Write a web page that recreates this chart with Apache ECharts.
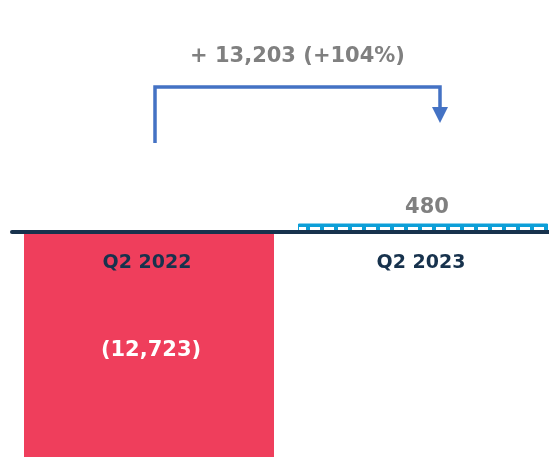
<!DOCTYPE html>
<html>
<head>
<meta charset="utf-8">
<script src="https://cdn.jsdelivr.net/npm/echarts@6/dist/echarts.min.js"></script>
<style>
  html, body { margin: 0; padding: 0; background: #fff; }
  #chart { width: 549px; height: 457px; }
</style>
</head>
<body>
<div id="chart"></div>
<script>
// categories and values
const periods = ['Q2 2022', 'Q2 2023']
const values = [-12723, 480]

const fontFamily = '"DejaVu Sans", sans-serif'

// change between the two periods
const delta = values[1] - values[0]
const deltaPct = Math.round(delta / Math.abs(values[0]) * 100)

function fmt(v) {
  const s = Math.abs(v).toLocaleString('en-US')
  return v < 0 ? '(' + s + ')' : s
}

// hatched fill for the second bar
function hatch() {
  const c = document.createElement('canvas')
  c.width = 14
  c.height = 8
  const ctx = c.getContext('2d')
  ctx.fillStyle = '#0d9fd8'
  ctx.fillRect(0, 0, 14, 8)
  ctx.fillStyle = '#ffffff'
  ctx.fillRect(2, 3, 10, 3)
  return c
}

const myChart = echarts.init(document.getElementById('chart'))
const option = {
  animation: false,
  grid: { left: 12, top: 0, bottom: 0, width: 548, outerBoundsMode: 'none' },
  xAxis: {
    type: 'category',
    data: periods,
    z: 5,
    axisLine: { lineStyle: { color: '#17324d', width: 4 } },
    axisTick: { show: false },
    axisLabel: { show: false }
  },
  yAxis: {
    type: 'value',
    min: -12723,
    max: 13119,
    show: false,
    splitLine: { show: false }
  },
  series: [
    {
      type: 'bar',
      barWidth: 250,
      data: [
        {
          value: values[0],
          itemStyle: { color: '#ef3e5c' },
          label: {
            show: true,
            position: 'inside',
            offset: [2, 6],
            color: '#ffffff',
            fontSize: 21,
            fontWeight: 'bold',
            fontFamily: fontFamily,
            formatter: p => fmt(p.value)
          }
        },
        {
          value: values[1],
          itemStyle: {
            color: { image: hatch(), repeat: 'repeat' },
            borderColor: '#0d9fd8',
            borderWidth: 1
          },
          label: {
            show: true,
            position: 'top',
            distance: 5,
            offset: [4, 0],
            color: '#808080',
            fontSize: 21,
            fontWeight: 'bold',
            fontFamily: fontFamily,
            formatter: p => fmt(p.value)
          }
        }
      ]
    }
  ]
}
myChart.setOption(option)

// category names under the baseline, bracket arrow above
const cx = periods.map(p => myChart.convertToPixel({ xAxisIndex: 0 }, p))
const x0 = cx[0] + 6
const x1 = cx[1] + 17
const arrowColor = '#4472c4'
const graphics = periods.map((p, i) => ({
  type: 'text',
  x: cx[i] - 2,
  y: 263,
  z: 10,
  style: {
    text: p,
    fill: '#17324d',
    font: 'bold 19px ' + fontFamily,
    align: 'center',
    verticalAlign: 'middle'
  }
}))
graphics.push(
  {
    type: 'polyline',
    shape: { points: [[x0, 143], [x0, 87], [x1, 87], [x1, 108]] },
    style: { stroke: arrowColor, lineWidth: 3.5, fill: null }
  },
  {
    type: 'polygon',
    shape: { points: [[x1 - 8, 107], [x1 + 8, 107], [x1, 123]] },
    style: { fill: arrowColor }
  },
  {
    type: 'text',
    x: (x0 + x1) / 2,
    y: 57,
    style: {
      text: '+ ' + delta.toLocaleString('en-US') + ' (+' + deltaPct + '%)',
      fill: '#808080',
      font: 'bold 21px ' + fontFamily,
      align: 'center',
      verticalAlign: 'middle'
    }
  }
)
myChart.setOption({ graphic: graphics })
</script>
</body>
</html>
